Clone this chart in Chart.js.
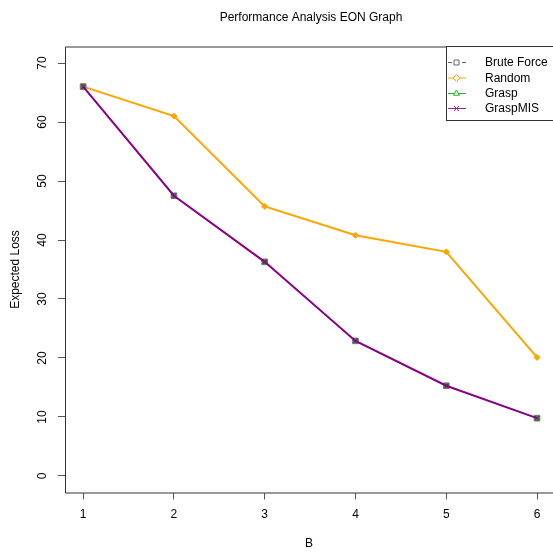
<!DOCTYPE html>
<html>
<head>
<meta charset="utf-8">
<script src="https://cdn.jsdelivr.net/npm/chart.js@4/dist/chart.umd.min.js"></script>
<style>
    html, body { margin: 0; padding: 0; background: #fff; }
    #wrap { width: 553px; height: 553px; }
</style>
</head>
<body>
<div id="wrap"><canvas id="chart" width="553" height="553"></canvas></div>
<script>
// Dados do gráfico
const budgets = [1, 2, 3, 4, 5, 6];
const bruteForce = [66, 47.5, 36.3, 22.9, 15.3, 9.8];
const randomLoss = [66, 61, 45.7, 40.8, 38.0, 20.1];
const grasp = [66, 47.5, 36.3, 22.9, 15.3, 9.8];
const graspMIS = [66, 47.5, 36.3, 22.9, 15.3, 9.8];
const yTicks = [0, 10, 20, 30, 40, 50, 60, 70];

const FONT = 'Liberation Sans, Arial, sans-serif';

function points(values) {
    return budgets.map((b, i) => ({ x: b, y: values[i] }));
}

// Título, caixa do gráfico, rótulos do eixo Y e legenda estilo R
const rStylePlugin = {
    id: 'rStyle',
    afterDraw(chart) {
        const { ctx, chartArea } = chart;
        const yScale = chart.scales.y;
        ctx.save();

        // caixa
        ctx.strokeStyle = '#333';
        ctx.lineWidth = 1;
        ctx.beginPath();
        ctx.moveTo(chartArea.left + 0.5, chartArea.bottom + 0.5);
        ctx.lineTo(chartArea.left + 0.5, chartArea.top + 0.5);
        ctx.lineTo(chartArea.right + 2, chartArea.top + 0.5);
        ctx.moveTo(chartArea.left + 0.5, chartArea.bottom + 0.5);
        ctx.lineTo(chartArea.right + 2, chartArea.bottom + 0.5);
        ctx.stroke();

        // título
        ctx.fillStyle = '#000';
        ctx.font = '12px ' + FONT;
        ctx.textAlign = 'center';
        ctx.textBaseline = 'middle';
        ctx.fillText('Performance Analysis EON Graph', 311, 18);

        // rótulos do eixo Y (verticais)
        yScale.ticks.forEach(t => {
            const y = yScale.getPixelForValue(t.value);
            ctx.save();
            ctx.translate(43, y);
            ctx.rotate(-Math.PI / 2);
            ctx.fillText(String(t.value), 0, 0);
            ctx.restore();
        });

        // legenda
        const lx = 446.5, ly = 46.5;
        ctx.fillStyle = '#fff';
        ctx.fillRect(lx, ly, 120, 74);
        ctx.strokeStyle = '#333';
        ctx.strokeRect(lx, ly, 120, 74);
        const rows = [62, 77.5, 93, 108];
        chart.data.datasets.forEach((ds, i) => {
            const y = rows[i];
            ctx.strokeStyle = ds.legendColor;
            ctx.lineWidth = 1;
            ctx.setLineDash(ds.borderDash || []);
            ctx.beginPath();
            ctx.moveTo(448, y + 0.5);
            ctx.lineTo(466, y + 0.5);
            ctx.stroke();
            ctx.setLineDash([]);
            ctx.fillStyle = '#fff';
            Chart.helpers.drawPoint(ctx, {
                pointStyle: ds.pointStyle,
                radius: 3.5,
                rotation: 0,
                borderWidth: 1
            }, 456.5, y + 0.5);
            ctx.fillStyle = '#000';
            ctx.textAlign = 'left';
            ctx.textBaseline = 'middle';
            ctx.font = '12px ' + FONT;
            ctx.fillText(ds.label, 485, y + 1);
        });
        ctx.restore();
    }
};

const ctx = document.getElementById('chart');

new Chart(ctx, {
    type: 'line',
    data: {
        datasets: [
            {
                label: 'Brute Force',
                data: points(bruteForce),
                borderColor: '#666',
                legendColor: '#666',
                borderWidth: 1,
                borderDash: [4, 3],
                pointStyle: 'rect',
                pointRadius: 4,
                pointBackgroundColor: '#4a4a4a',
                pointBorderColor: '#7a7a7a',
                pointBorderWidth: 1,
                order: 2
            },
            {
                label: 'Random',
                data: points(randomLoss),
                borderColor: '#FFA500',
                legendColor: '#FFA500',
                borderWidth: 2,
                pointStyle: 'rectRot',
                pointRadius: 3,
                pointBackgroundColor: '#FFA500',
                pointBorderColor: '#FFA500',
                pointBorderWidth: 1,
                order: 3
            },
            {
                label: 'Grasp',
                data: points(grasp),
                borderColor: '#22b422',
                legendColor: '#22b422',
                borderWidth: 1,
                pointStyle: 'triangle',
                pointRadius: 2.5,
                pointBackgroundColor: 'rgba(0,0,0,0)',
                pointBorderColor: '#22b422',
                pointBorderWidth: 1,
                order: 1
            },
            {
                label: 'GraspMIS',
                data: points(graspMIS),
                borderColor: '#8B008B',
                legendColor: '#a020a0',
                borderWidth: 2,
                pointStyle: 'crossRot',
                pointRadius: 2.5,
                pointBorderColor: '#8B008B',
                pointBorderWidth: 1,
                order: 0
            }
        ]
    },
    options: {
        responsive: false,
        animation: false,
        layout: { autoPadding: false, padding: { top: 46.5, left: 0, right: 0, bottom: 0 } },
        elements: { line: { tension: 0 } },
        scales: {
            x: {
                type: 'linear',
                min: 0.8,
                max: 6.176,
                afterBuildTicks: s => { s.ticks = budgets.map(v => ({ value: v })); },
                afterFit: s => { s.height = 60.5; s.paddingLeft = 0; s.paddingRight = 0; },
                ticks: {
                    autoSkip: false,
                    maxRotation: 0,
                    padding: 8,
                    color: '#000',
                    font: { family: FONT, size: 12 }
                },
                grid: { drawOnChartArea: false, drawTicks: true, tickLength: 7, color: '#555' },
                border: { display: false },
                title: {
                    display: true,
                    text: 'B',
                    color: '#000',
                    font: { family: FONT, size: 12 },
                    padding: { top: 0, bottom: 2 }
                }
            },
            y: {
                min: -2.8,
                max: 72.8,
                afterBuildTicks: s => { s.ticks = yTicks.map(v => ({ value: v })); },
                afterFit: s => { s.width = 65; },
                ticks: { display: false },
                grid: { drawOnChartArea: false, drawTicks: true, tickLength: 7, color: '#555' },
                border: { display: false },
                title: {
                    display: true,
                    text: 'Expected Loss',
                    color: '#000',
                    font: { family: FONT, size: 12 },
                    padding: { top: 8, bottom: 0 }
                }
            }
        },
        plugins: {
            legend: { display: false },
            title: { display: false },
            tooltip: { enabled: false }
        }
    },
    plugins: [rStylePlugin]
});
</script>
</body>
</html>
